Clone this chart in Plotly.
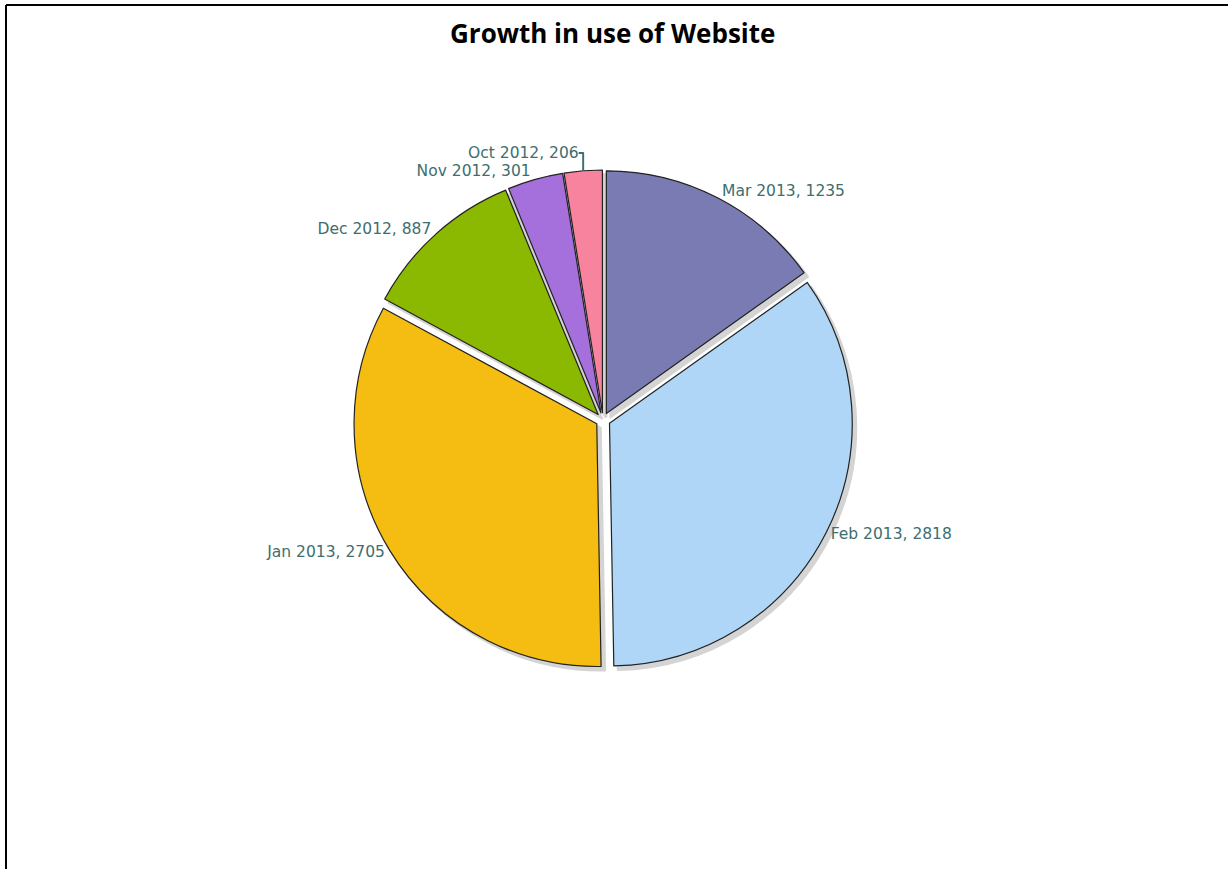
import plotly.graph_objects as go

labels = ["Mar 2013", "Feb 2013", "Jan 2013", "Dec 2012", "Nov 2012", "Oct 2012"]
values = [1235, 2818, 2705, 887, 301, 206]
colors = ["#7B7BB4", "#AFD6F6", "#F5BC12", "#8BB800", "#A56FDC", "#F7839F"]

W, H = 1228, 869
cx, cy, half = 603, 420, 250
sh = 4  # shadow offset in px


def dom(x, y):
    return dict(x=[(x - half) / W, (x + half) / W],
                y=[(H - y - half) / H, (H - y + half) / H])


fig = go.Figure()

# soft shadow beneath the slices
fig.add_trace(go.Pie(
    labels=labels,
    values=values,
    sort=False,
    direction="clockwise",
    rotation=0,
    pull=0.03,
    marker=dict(colors=["#D4D4D4"] * len(values), line=dict(color="#D4D4D4", width=2)),
    textinfo="none",
    showlegend=False,
    hoverinfo="skip",
    domain=dom(cx + sh, cy + sh),
))

fig.add_trace(go.Pie(
    labels=labels,
    values=values,
    sort=False,
    direction="clockwise",
    rotation=0,
    pull=0.03,
    marker=dict(colors=colors, line=dict(color="#222222", width=1.2)),
    texttemplate="%{label}, %{value}",
    textposition="outside",
    outsidetextfont=dict(family="DejaVu Sans", size=15.5, color="#3E6E6E"),
    showlegend=False,
    hoverinfo="label+value",
    domain=dom(cx, cy),
))

fig.update_layout(
    width=W, height=H,
    margin=dict(l=0, r=0, t=0, b=0),
    paper_bgcolor="white",
    plot_bgcolor="white",
    annotations=[dict(
        text="<b>Growth in use of Website</b>",
        x=612 / W, y=1 - 33 / H, xref="paper", yref="paper",
        xanchor="center", yanchor="middle", showarrow=False,
        font=dict(family="Open Sans", size=26, color="black"),
    )],
    shapes=[
        dict(type="line", xref="paper", yref="paper",
             x0=6 / W, x1=1, y0=1 - 5 / H, y1=1 - 5 / H,
             line=dict(color="black", width=2)),
        dict(type="line", xref="paper", yref="paper",
             x0=6 / W, x1=6 / W, y0=0, y1=1 - 5 / H,
             line=dict(color="black", width=2)),
    ],
)

fig.write_html("out.html")
